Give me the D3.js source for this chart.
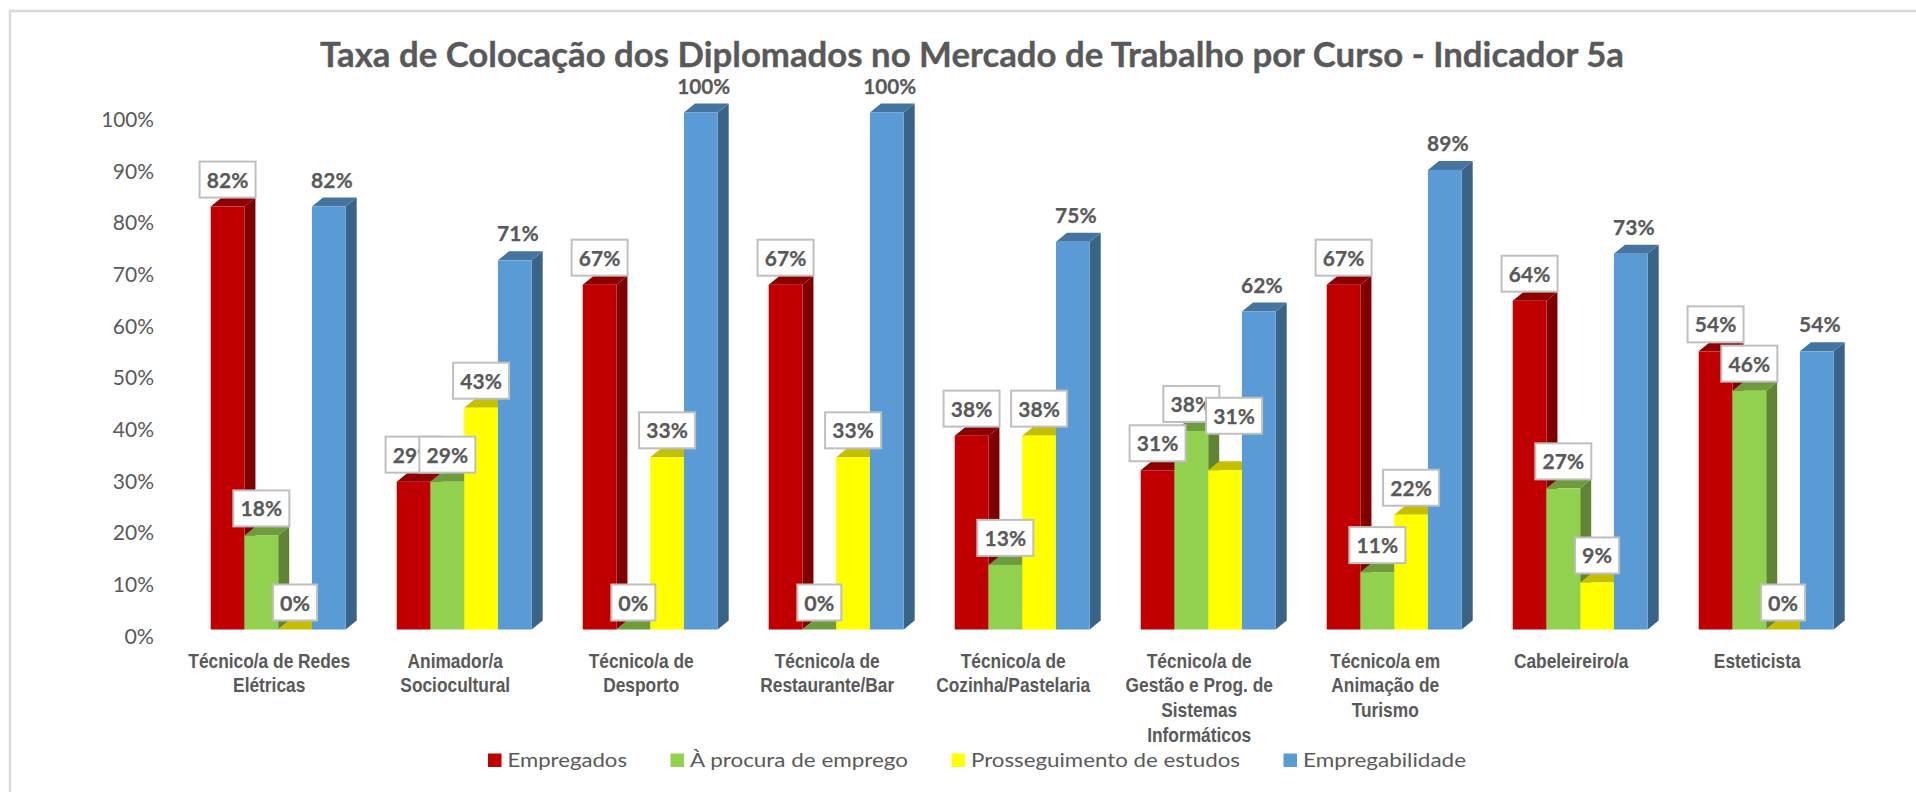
<!DOCTYPE html>
<html lang="pt">
<head>
<meta charset="utf-8">
<title>Taxa de Colocação</title>
<script src="https://cdn.jsdelivr.net/npm/d3@7/dist/d3.min.js"></script>
<style>
html,body{margin:0;padding:0;background:#fff;overflow:hidden}
svg{display:block}
text{fill:#595959}
</style>
</head>
<body>
<svg id="chart" width="1916" height="792"></svg>
<script>
const chartTitle = "Taxa de Colocação dos Diplomados no Mercado de Trabalho por Curso - Indicador 5a";
const categories = [
  ["Técnico/a de Redes","Elétricas"],
  ["Animador/a","Sociocultural"],
  ["Técnico/a de","Desporto"],
  ["Técnico/a de","Restaurante/Bar"],
  ["Técnico/a de","Cozinha/Pastelaria"],
  ["Técnico/a de","Gestão e Prog. de","Sistemas","Informáticos"],
  ["Técnico/a em","Animação de","Turismo"],
  ["Cabeleireiro/a"],
  ["Esteticista"]
];
const seriesNames = ["Empregados","À procura de emprego","Prosseguimento de estudos","Empregabilidade"];
const empregados      = [81.8,28.6,66.7,66.7,37.5,30.8,66.7,63.6,53.8];
const procuraEmprego  = [18.2,28.6,0,0,12.5,38.4,11.1,27.3,46.2];
const prosseguimento  = [0,42.9,33.3,33.3,37.5,30.8,22.2,9.1,0];
const empregabilidade = [81.8,71.4,100,100,75,61.5,88.9,72.7,53.8];
const seriesValues = [empregados,procuraEmprego,prosseguimento,empregabilidade];
const yTicks = [0,10,20,30,40,50,60,70,80,90,100];

const frontColors = ["#C00000","#92D050","#FFFF00","#5B9BD5"];
const topColors   = ["#8E0000","#6E9C3C","#C4BF00","#44749F"];
const sideColors  = ["#7F0000","#5F8434","#A8A800","#3A6487"];
const boxed = [true,true,true,false];

const legendTextX = [507.5,690,971,1303];
const legendTextW = [119.5,218,269,163];

const depthX = 11, depthY = 9;
const svg = d3.select("#chart");

// frame
svg.append("path").attr("d","M10 792V11H1916").attr("fill","none").attr("stroke","#D9D9D9").attr("stroke-width",2.4);

const x = d3.scaleBand().domain(d3.range(categories.length)).range([184.7,1858.7]);
const inner = d3.scaleBand().domain(d3.range(seriesNames.length)).range([26,161]);
const y = d3.scaleLinear().domain([0,100]).range([629.5,112.5]);

// title
svg.append("text").attr("x",972).attr("y",67).attr("text-anchor","middle")
  .attr("textLength",1304).attr("lengthAdjust","spacingAndGlyphs")
  .style("font","700 34px Lato").style("stroke","#595959").style("stroke-width",0.35).text(chartTitle);

// y axis labels
const yAxis = d3.axisLeft(y).tickValues(yTicks).tickSize(0).tickPadding(0).tickFormat(d=>d+"%");
const yG = svg.append("g").attr("transform","translate(154,7.3)").call(yAxis);
yG.select(".domain").remove();
yG.selectAll("text").style("font","400 20.5px Lato").attr("fill","#595959")
  .attr("textLength",d=>(String(d).length*11.6+18)).attr("lengthAdjust","spacingAndGlyphs");

// bars
const groups = svg.append("g").selectAll("g").data(categories).join("g")
  .attr("transform",(d,i)=>`translate(${x(i)},0)`);
groups.each(function(cat,ci){
  const g = d3.select(this);
  seriesNames.forEach((s,si)=>{
    const v = seriesValues[si][ci];
    const x0 = inner(si), x1 = x0+inner.bandwidth();
    const yt = y(v), yb = y(0);
    g.append("path").attr("fill",sideColors[si])
      .attr("d",`M${x1} ${yt}L${x1+depthX} ${yt-depthY}V${yb-depthY}L${x1} ${yb}Z`);
    g.append("path").attr("fill",topColors[si])
      .attr("d",`M${x0} ${yt}L${x0+depthX} ${yt-depthY}H${x1+depthX}L${x1} ${yt}Z`);
    if(v>0) g.append("rect").attr("x",x0).attr("y",yt).attr("width",inner.bandwidth()).attr("height",yb-yt).attr("fill",frontColors[si]);
  });
});

// data labels; one label was dragged away from its bar in the original
const fmt = d3.format(".0f");
const movedLabels = {"2-5":[9,-27.5]};
const labels = svg.append("g");
seriesNames.forEach((s,si)=>{
  seriesValues[si].forEach((v,ci)=>{
    const txt = fmt(v)+"%";
    const mv = movedLabels[si+"-"+ci] || [0,0];
    const cx = x(ci)+inner(si)+inner.bandwidth()/2 + (boxed[si]?0:3) + mv[0];
    const cy = y(v)-27 + mv[1];
    if(boxed[si]){
      const w = txt.length>2?56:44, h=36;
      labels.append("rect").attr("x",cx-w/2).attr("y",cy-h/2).attr("width",w).attr("height",h)
        .attr("fill","#fff").attr("stroke","#BFBFBF").attr("stroke-width",2);
    }
    labels.append("text").attr("x",cx).attr("y",cy+0.3).attr("dy","0.36em").attr("text-anchor","middle")
      .attr("textLength",txt.length*11.5+7).attr("lengthAdjust","spacingAndGlyphs")
      .style("font","700 21.5px Lato").style("stroke","#595959").style("stroke-width",0.25).text(txt);
  });
});

// category labels
const catG = svg.append("g");
categories.forEach((lines,i)=>{
  lines.forEach((ln,j)=>{
    catG.append("text")
      .attr("transform",`translate(${x(i)+84.5},${667.5+j*24.9}) scale(0.867,1)`)
      .attr("text-anchor","middle").style("font","700 20px 'Liberation Sans'").text(ln);
  });
});

// legend
seriesNames.forEach((s,i)=>{
  svg.append("rect").attr("x",legendTextX[i]-19.5).attr("y",753.5).attr("width",13.5).attr("height",13.5).attr("fill",frontColors[i]);
  svg.append("text").attr("x",legendTextX[i]).attr("y",767)
    .attr("textLength",legendTextW[i]).attr("lengthAdjust","spacingAndGlyphs")
    .style("font","400 19.5px Lato").text(s);
});
</script>
</body>
</html>
